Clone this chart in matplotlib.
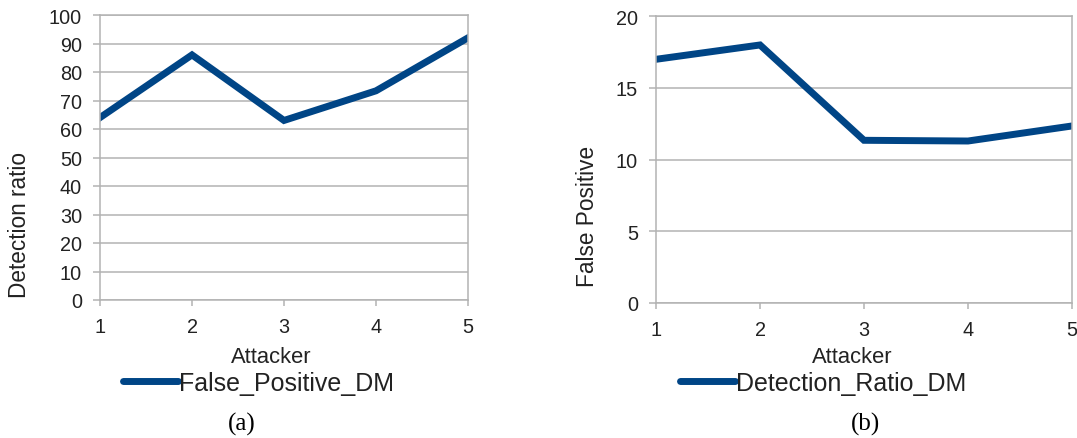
import matplotlib
matplotlib.use("Agg")
import matplotlib.pyplot as plt

attackers = [1, 2, 3, 4, 5]
detection_ratio = [64, 86, 63, 73.4, 92]
false_positive = [17.0, 18.0, 11.35, 11.3, 12.35]

LINE = "#004586"
GRID = "#b3b3b3"
TXT = "#222222"
plt.rcParams["font.family"] = ["Liberation Sans", "DejaVu Sans"]

W, H = 1077, 439
fig = plt.figure(figsize=(W / 100, H / 100), dpi=100)

def px(x0, y0, x1, y1):
    return [x0 / W, 1 - y1 / H, (x1 - x0) / W, (y1 - y0) / H]

def style(ax, ymax, ystep):
    ax.set_xlim(1, 5)
    ax.set_ylim(0, ymax)
    ax.set_xticks(attackers)
    ax.set_yticks(range(0, ymax + 1, ystep))
    ax.grid(axis="y", color=GRID, linewidth=1.1)
    ax.set_axisbelow(True)
    for s in ax.spines.values():
        s.set_color(GRID)
        s.set_linewidth(1.1)
    ax.tick_params(axis="y", length=5, pad=8, color=GRID, labelsize=14.3, labelcolor=TXT, width=1.1)
    ax.tick_params(axis="x", length=4, pad=8, color=GRID, labelsize=14.3, labelcolor=TXT, width=1.1)

ax1 = fig.add_axes(px(100, 16, 468, 301))
style(ax1, 100, 10)
ax1.plot(attackers, detection_ratio, color=LINE, lw=5, solid_joinstyle="miter",
         label="False_Positive_DM")

ax2 = fig.add_axes(px(656, 17.3, 1072, 304))
style(ax2, 20, 5)
ax2.plot(attackers, false_positive, color=LINE, lw=5, solid_joinstyle="miter",
         label="Detection_Ratio_DM")

fig.text(20 / W, 1 - 225 / H, "Detection ratio", rotation=90, ha="center", va="center",
         fontsize=16.3, color=TXT)
fig.text(587 / W, 1 - 216.5 / H, "False Positive", rotation=90, ha="center", va="center",
         fontsize=16.3, color=TXT)

fig.text(271 / W, 1 - 358 / H, "Attacker", ha="center", va="center", fontsize=15.8, color=TXT)
fig.text(852 / W, 1 - 358 / H, "Attacker", ha="center", va="center", fontsize=15.8, color=TXT)

for ax, x0 in ((ax1, 123), (ax2, 680)):
    leg = ax.legend(loc="center left", bbox_to_anchor=(x0 / W, 1 - 384 / H),
                    bbox_transform=fig.transFigure, frameon=False, borderpad=0,
                    borderaxespad=0, handletextpad=0.05, handlelength=2.2,
                    prop={"size": 18})
    for t in leg.get_texts():
        t.set_color(TXT)
    for l in leg.get_lines():
        l.set_solid_capstyle("round")

fig.text(242 / W, 1 - 424 / H, "(a)", ha="center", va="center", fontsize=18,
         family="Liberation Serif", color="black")
fig.text(866 / W, 1 - 424 / H, "(b)", ha="center", va="center", fontsize=18,
         family="Liberation Serif", color="black")

fig.savefig("out.png", dpi=100, facecolor="white")
